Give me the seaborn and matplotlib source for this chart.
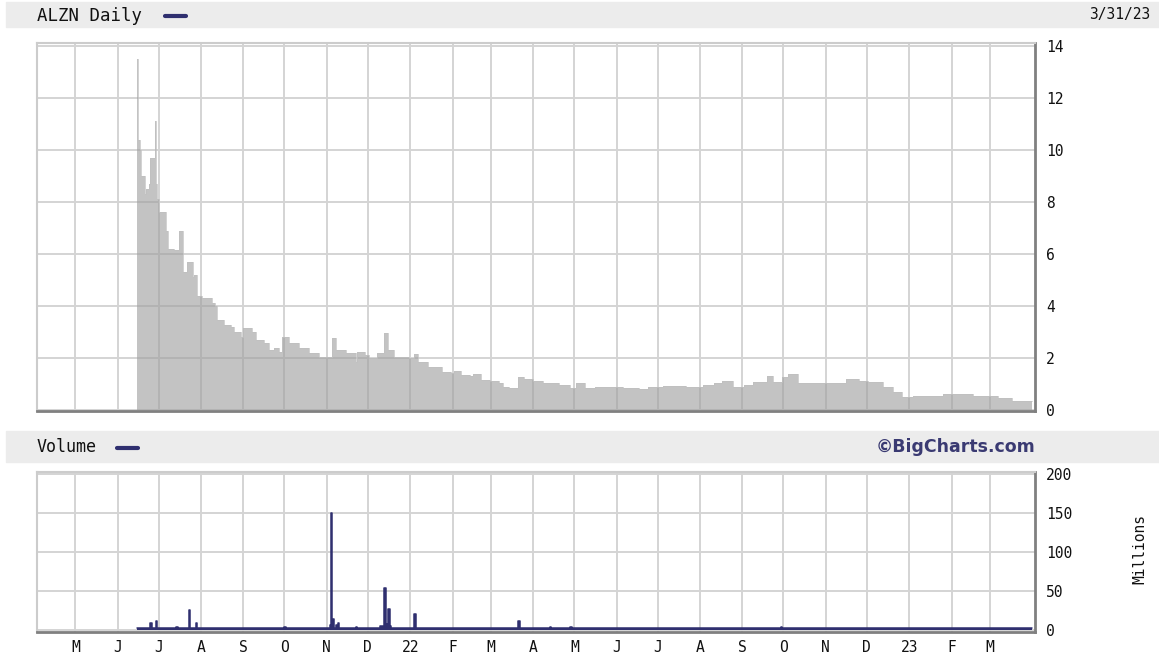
import numpy as np
import pandas as pd
import seaborn as sns
import matplotlib.pyplot as plt
from matplotlib.lines import Line2D
from matplotlib.patches import Rectangle

# daily close, ALZN
price_dates = [
    "2021-06-15", "2021-06-16", "2021-06-17", "2021-06-18", "2021-06-21", "2021-06-22",
    "2021-06-24", "2021-06-25", "2021-06-28", "2021-06-29", "2021-06-30", "2021-07-01",
    "2021-07-06", "2021-07-08", "2021-07-12", "2021-07-16", "2021-07-19", "2021-07-22",
    "2021-07-26", "2021-07-27", "2021-07-29", "2021-08-02", "2021-08-09", "2021-08-11",
    "2021-08-13", "2021-08-18", "2021-08-23", "2021-08-25", "2021-08-30", "2021-09-01",
    "2021-09-07", "2021-09-10", "2021-09-16", "2021-09-20", "2021-09-23", "2021-09-27",
    "2021-09-29", "2021-10-04", "2021-10-12", "2021-10-19", "2021-10-26", "2021-11-03",
    "2021-11-05", "2021-11-08", "2021-11-15", "2021-11-22", "2021-11-23", "2021-11-29",
    "2021-12-02", "2021-12-08", "2021-12-13", "2021-12-16", "2021-12-20", "2021-12-27",
    "2021-12-31", "2022-01-04", "2022-01-07", "2022-01-14", "2022-01-24", "2022-01-31",
    "2022-02-02", "2022-02-07", "2022-02-14", "2022-02-16", "2022-02-22", "2022-02-28",
    "2022-03-07", "2022-03-10", "2022-03-14", "2022-03-21", "2022-03-25", "2022-04-01",
    "2022-04-08", "2022-04-20", "2022-04-28", "2022-05-02", "2022-05-09", "2022-05-16",
    "2022-05-26", "2022-06-06", "2022-06-17", "2022-06-24", "2022-07-05", "2022-07-22",
    "2022-08-03", "2022-08-11", "2022-08-17", "2022-08-25", "2022-09-02", "2022-09-09",
    "2022-09-19", "2022-09-23", "2022-09-30", "2022-10-04", "2022-10-12", "2022-11-03",
    "2022-11-16", "2022-11-25", "2022-12-02", "2022-12-13", "2022-12-20", "2022-12-27",
    "2023-01-04", "2023-01-17", "2023-01-26", "2023-02-06", "2023-02-17", "2023-02-28",
    "2023-03-07", "2023-03-17", "2023-03-29", "2023-04-01",
]
price_vals = [
    13.5, 10.4, 10.0, 9.0, 8.3, 8.5,
    8.7, 9.7, 11.1, 8.7, 8.1, 7.6,
    6.9, 6.2, 6.15, 6.9, 5.3, 5.7,
    5.1, 5.2, 4.4, 4.3, 4.1, 4.0,
    3.45, 3.27, 3.2, 3.0, 2.8, 3.15,
    3.0, 2.7, 2.58, 2.3, 2.4, 2.23,
    2.8, 2.58, 2.38, 2.19, 2.04, 2.04,
    2.75, 2.3, 2.2, 1.85, 2.23, 2.1,
    2.0, 2.2, 2.95, 2.3, 2.05, 2.05,
    2.0, 2.15, 1.85, 1.65, 1.46, 1.42,
    1.5, 1.35, 1.32, 1.38, 1.15, 1.12,
    1.03, 0.9, 0.85, 1.27, 1.2, 1.12,
    1.03, 0.96, 0.85, 1.03, 0.85, 0.9,
    0.88, 0.85, 0.8, 0.88, 0.92, 0.88,
    0.96, 1.03, 1.1, 0.88, 0.96, 1.08,
    1.3, 1.08, 1.27, 1.38, 1.04, 1.04,
    1.2, 1.1, 1.07, 0.9, 0.7, 0.5,
    0.52, 0.55, 0.6, 0.6, 0.52, 0.52,
    0.45, 0.35, 0.35, 0.35,
]

# daily volume, millions
vol_dates = [
    "2021-06-15", "2021-06-25", "2021-06-26", "2021-06-29", "2021-06-30",
    "2021-07-14", "2021-07-15", "2021-07-23", "2021-07-24", "2021-07-28", "2021-07-29",
    "2021-10-01", "2021-10-02", "2021-11-03", "2021-11-04", "2021-11-05", "2021-11-06",
    "2021-11-08", "2021-11-09", "2021-11-10", "2021-11-22", "2021-11-23",
    "2021-12-10", "2021-12-13", "2021-12-14", "2021-12-15", "2021-12-16", "2021-12-17",
    "2021-12-18", "2022-01-04", "2022-01-05", "2022-03-21", "2022-03-22",
    "2022-04-13", "2022-04-14", "2022-04-28", "2022-04-29", "2022-09-29", "2022-09-30",
    "2023-04-01",
]
vol_vals = [
    2, 9, 2, 12, 2,
    4, 2, 25, 2, 9, 2,
    4, 2, 6, 150, 14, 2,
    6, 9, 2, 4, 2,
    5, 54, 8, 5, 27, 5,
    2, 20, 2, 12, 2,
    4, 2, 4, 2, 4, 2,
    2,
]

month_labels = ["M", "J", "J", "A", "S", "O", "N", "D", "22", "F", "M", "A",
                "M", "J", "J", "A", "S", "O", "N", "D", "23", "F", "M"]
price_ticks = [0, 2, 4, 6, 8, 10, 12, 14]
vol_ticks = [0, 50, 100, 150, 200]

W, H = 1159, 666
navy = "#2f2f6f"
mono = ["DejaVu Sans Mono"]

sns.set_style("white")
plt.rcParams["font.family"] = mono

pdates = pd.to_datetime(price_dates)
vdates = pd.to_datetime(vol_dates)
month_ticks = pd.date_range("2021-05-01", "2023-03-01", freq="MS")
xlim = (pd.Timestamp("2021-04-03"), pd.Timestamp("2023-04-03"))

fig = plt.figure(figsize=(W / 100, H / 100), dpi=100)

def px(x, y):
    return x / W, 1 - y / H

# header bands
for y0, y1 in [(2, 27), (431, 462)]:
    fig.patches.append(Rectangle((6 / W, 1 - y1 / H), 1 - 6 / W, (y1 - y0) / H,
                                 transform=fig.transFigure, color="#ececec", zorder=0))

ax1 = fig.add_axes([37 / W, 1 - 411 / H, 998 / W, 368 / H])
ax2 = fig.add_axes([37 / W, 1 - 632 / H, 998 / W, 160 / H])

for ax in (ax1, ax2):
    ax.set_axisbelow(True)
    ax.set_xlim(xlim)
    ax.set_xticks(month_ticks)
    ax.grid(True, color="#d4d4d4", lw=1.4)
    ax.yaxis.tick_right()
    ax.tick_params(length=0, labelsize=10.5, colors="#111111")
    for s in ("top", "left"):
        ax.spines[s].set_color("#cccccc")
        ax.spines[s].set_linewidth(1.5)
    for s in ("right", "bottom"):
        ax.spines[s].set_color("#808080")
        ax.spines[s].set_linewidth(2)

# price area
ax1.fill_between(pdates, price_vals, step="post", color="#9e9e9e", alpha=0.61, lw=0)
sns.lineplot(x=pdates, y=price_vals, drawstyle="steps-post", color="#c0c0c0", lw=0.5, ax=ax1)
ax1.set_ylim(-0.04, 14.12)
ax1.set_yticks(price_ticks)
ax1.set_yticklabels([str(t) for t in price_ticks])
ax1.set_xticklabels([])
ax1.tick_params(axis="y", pad=8)

# volume
ax2.fill_between(vdates, vol_vals, step="post", color=navy, lw=0)
sns.lineplot(x=vdates, y=vol_vals, drawstyle="steps-post", color=navy, lw=1.1, ax=ax2)
ax2.set_ylim(-2.6, 202.6)
ax2.set_yticks(vol_ticks)
ax2.set_yticklabels([str(t) for t in vol_ticks])
ax2.set_xticklabels(month_labels)
ax2.tick_params(axis="y", pad=8)
ax2.tick_params(axis="x", pad=6)
for ax in (ax1, ax2):
    ax.set_xlabel("")
    ax.set_ylabel("")

# header texts and legend dashes
fig.text(*px(37, 16), "ALZN Daily", fontsize=12.5, va="center", ha="left", color="#111111")
fig.add_artist(Line2D([165 / W, 186 / W], [1 - 16 / H] * 2, color=navy, lw=3,
                      transform=fig.transFigure))
fig.text(*px(1150, 15), "3/31/23", fontsize=10.5, va="center", ha="right", color="#111111")
fig.text(*px(37, 447), "Volume", fontsize=12, va="center", ha="left", color="#111111")
fig.add_artist(Line2D([117 / W, 138 / W], [1 - 448 / H] * 2, color=navy, lw=3,
                      transform=fig.transFigure))
fig.text(*px(1035, 447), "\u00a9BigCharts.com", fontsize=12.5, fontweight="bold",
         family=["DejaVu Sans"], va="center", ha="right", color="#3a3a72")
fig.text(*px(1140, 549), "Millions", fontsize=10.5, rotation=90, va="center", ha="center",
         color="#111111")

fig.savefig("out.png", dpi=100)
